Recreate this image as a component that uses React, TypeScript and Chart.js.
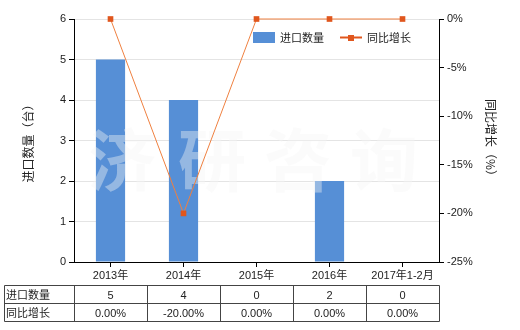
import React, { useEffect, useRef } from "react";
import { Chart, registerables } from "chart.js";

Chart.register(...registerables);

const categories = ["2013年", "2014年", "2015年", "2016年", "2017年1-2月"];
const importQty = [5, 4, 0, 2, 0];
const yoyGrowth = [0, -20, 0, 0, 0];
const qtyLabels = ["5", "4", "0", "2", "0"];
const growthLabels = ["0.00%", "-20.00%", "0.00%", "0.00%", "0.00%"];
const seriesNames = ["进口数量", "同比增长"];
const leftTitle = "进口数量（台）";
const rightTitle = "同比增长（%）";
const watermark = ["济", "研", "咨", "询"];

const BAR_COLOR = "#568FD6";
const LINE_COLOR = "#EF8040";
const POINT_COLOR = "#E0561D";
const FONT = "'Liberation Sans', 'Noto Sans CJK SC', sans-serif";
const CJK = "'Noto Sans CJK SC', sans-serif";

const overlay = {
  id: "overlay",
  afterDatasetDraw(chart: any, args: any) {
    if (args.index !== 0) return;
    const ctx = chart.ctx;
    ctx.save();
    ctx.fillStyle = "rgba(246,246,246,0.4)";
    ctx.font = `bold 68px ${CJK}`;
    ctx.textAlign = "center";
    ctx.textBaseline = "middle";
    const xs = [122, 212, 298, 384];
    watermark.forEach((c, i) => ctx.fillText(c, xs[i], 160));
    ctx.restore();
  },
  afterDraw(chart: any) {
    const ctx = chart.ctx;
    const area = chart.chartArea;
    const xs = chart.scales.x;
    ctx.save();
    ctx.fillStyle = "#222";
    ctx.font = `12px ${CJK}`;
    ctx.textAlign = "center";
    ctx.textBaseline = "middle";
    const cy = (area.top + area.bottom) / 2;
    ctx.save();
    ctx.translate(28, cy);
    ctx.rotate(-Math.PI / 2);
    ctx.fillText(leftTitle, 0, 0);
    ctx.restore();
    ctx.save();
    ctx.translate(491, cy);
    ctx.rotate(Math.PI / 2);
    ctx.fillText(rightTitle, 0, 0);
    ctx.restore();

    // legend
    ctx.fillStyle = BAR_COLOR;
    ctx.fillRect(253, 32, 22, 11);
    ctx.fillStyle = "#222";
    ctx.font = `11px ${CJK}`;
    ctx.textAlign = "left";
    ctx.fillText(seriesNames[0], 280, 38);
    ctx.strokeStyle = POINT_COLOR;
    ctx.lineWidth = 2;
    ctx.beginPath();
    ctx.moveTo(340, 37.5);
    ctx.lineTo(362, 37.5);
    ctx.stroke();
    ctx.fillStyle = POINT_COLOR;
    ctx.fillRect(348, 35, 6, 6);
    ctx.fillStyle = "#222";
    ctx.fillText(seriesNames[1], 367, 38);

    // table
    const left = 4.5;
    const right = Math.round(area.right) + 0.5;
    const r0 = 285.5, r1 = 303.5, r2 = 321.5;
    ctx.strokeStyle = "#444";
    ctx.lineWidth = 1;
    ctx.beginPath();
    [r0, r1, r2].forEach((y) => {
      ctx.moveTo(left, y);
      ctx.lineTo(right, y);
    });
    ctx.moveTo(left, r0);
    ctx.lineTo(left, r2);
    const n = categories.length;
    const step = (area.right - area.left) / n;
    for (let i = 0; i <= n; i++) {
      const x = Math.round(area.left + step * i) + 0.5;
      ctx.moveTo(x, r0);
      ctx.lineTo(x, r2);
    }
    ctx.stroke();
    ctx.fillStyle = "#222";
    ctx.font = `11px ${CJK}`;
    ctx.textAlign = "left";
    ctx.fillText(seriesNames[0], 6, (r0 + r1) / 2);
    ctx.fillText(seriesNames[1], 6, (r1 + r2) / 2);
    ctx.font = `11px ${FONT}`;
    ctx.textAlign = "center";
    for (let i = 0; i < n; i++) {
      const x = xs.getPixelForValue(i);
      ctx.fillText(qtyLabels[i], x, (r0 + r1) / 2 + 1);
      ctx.fillText(growthLabels[i], x, (r1 + r2) / 2 + 1);
    }
    ctx.restore();
  },
};

export default function App() {
  const ref = useRef<HTMLCanvasElement>(null);
  useEffect(() => {
    document.body.style.margin = "0";
    const chart = new Chart(ref.current!, {
      type: "bar",
      data: {
        labels: categories,
        datasets: [
          {
            type: "bar",
            label: seriesNames[0],
            data: importQty,
            backgroundColor: BAR_COLOR,
            barPercentage: 0.4,
            categoryPercentage: 1,
            yAxisID: "y",
            order: 1,
          },
          {
            type: "line",
            label: seriesNames[1],
            data: yoyGrowth,
            borderColor: LINE_COLOR,
            borderWidth: 1,
            backgroundColor: POINT_COLOR,
            pointStyle: "rect",
            pointRadius: 4,
            pointBorderWidth: 0,
            pointBackgroundColor: POINT_COLOR,
            clip: false,
            yAxisID: "y1",
            order: 0,
          } as any,
        ],
      },
      options: {
        responsive: false,
        animation: false,
        layout: { padding: { top: 19, left: 0, right: 0, bottom: 0 } },
        plugins: { legend: { display: false }, tooltip: { enabled: false } },
        scales: {
          x: {
            offset: true,
            afterFit: (s: any) => { s.height = 68; },
            grid: { offset: false, drawOnChartArea: false, tickLength: 5, tickColor: "#000" },
            border: { color: "#000" },
            ticks: { color: "#222", font: { size: 11, family: FONT }, padding: 2, maxRotation: 0 },
          },
          y: {
            position: "left",
            min: 0,
            max: 6,
            afterFit: (s: any) => { s.width = 74; },
            ticks: { stepSize: 1, color: "#222", font: { size: 11, family: FONT }, padding: 3 },
            grid: { color: "#E4E4E4", tickColor: "#000", tickLength: 5 },
            border: { color: "#000" },
          },
          y1: {
            position: "right",
            min: -25,
            max: 0,
            afterFit: (s: any) => { s.width = 81; },
            ticks: { stepSize: 5, color: "#222", font: { size: 11, family: FONT }, padding: 3, callback: (v: any) => v + "%" },
            grid: { drawOnChartArea: false, tickColor: "#000", tickLength: 5 },
            border: { color: "#000" },
          },
        },
      },
      plugins: [overlay],
    });
    return () => chart.destroy();
  }, []);
  return <canvas ref={ref} width={520} height={330} style={{ display: "block" }} />;
}
